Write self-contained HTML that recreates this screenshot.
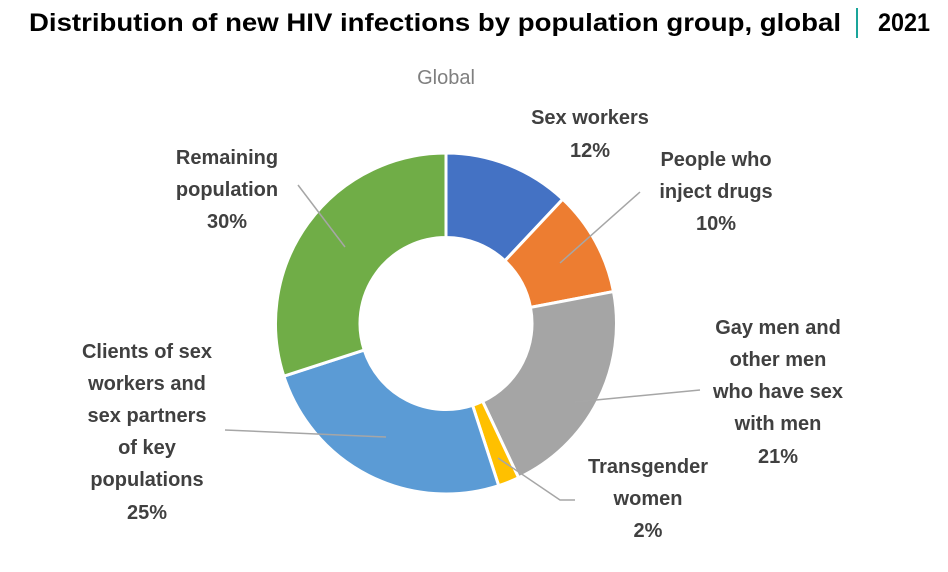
<!DOCTYPE html>
<html><head><meta charset="utf-8"><style>
body{margin:0;background:#fff;width:948px;height:567px;overflow:hidden;font-family:"Liberation Sans",Arial,sans-serif}
</style></head><body>
<svg width="948" height="567" viewBox="0 0 948 567" xmlns="http://www.w3.org/2000/svg">
<text x="29" y="31" font-family="Liberation Sans,Arial,sans-serif" font-weight="bold" font-size="25" fill="#000" textLength="812" lengthAdjust="spacingAndGlyphs">Distribution of new HIV infections by population group, global</text>
<rect x="856" y="8" width="2" height="30" fill="#1aa59a"/>
<text x="878" y="31" font-family="Liberation Sans,Arial,sans-serif" font-weight="bold" font-size="25" fill="#000" textLength="52" lengthAdjust="spacingAndGlyphs">2021</text>
<text x="446" y="84" text-anchor="middle" font-family="Liberation Sans,Arial,sans-serif" font-size="20" fill="#7f7f7f">Global</text>
<g id="ring"></g>
<g stroke="#a6a6a6" stroke-width="1.5" fill="none">
<polyline points="560,263 640,192"/>
<polyline points="575,402 700,390"/>
<polyline points="498,458 560,500 575,500"/>
<polyline points="386,437 225,430"/>
<polyline points="345,247 298,185"/>
</g>
<g font-family="Liberation Sans,Arial,sans-serif" font-weight="bold" font-size="20" fill="#404040" text-anchor="middle">
<text x="590" y="124">Sex workers</text><text x="590" y="157">12%</text>
<text x="716" y="166">People who</text><text x="716" y="198">inject drugs</text><text x="716" y="230">10%</text>
<text x="778" y="334">Gay men and</text><text x="778" y="366">other men</text><text x="778" y="398">who have sex</text><text x="778" y="430">with men</text><text x="778" y="463">21%</text>
<text x="648" y="473">Transgender</text><text x="648" y="505">women</text><text x="648" y="537">2%</text>
<text x="147" y="358">Clients of sex</text><text x="147" y="390">workers and</text><text x="147" y="422">sex partners</text><text x="147" y="454">of key</text><text x="147" y="486">populations</text><text x="147" y="519">25%</text>
<text x="227" y="164">Remaining</text><text x="227" y="196">population</text><text x="227" y="228">30%</text>
</g>
</svg>
<script>
(function(){
var cx=446,cy=323.5,R=170.5,r=86;
var d=[[12,"#4472C4"],[10,"#ED7D31"],[21,"#A5A5A5"],[2,"#FFC000"],[25,"#5B9BD5"],[30,"#70AD47"]];
var g=document.getElementById("ring"),a=0,s="";
function pt(rad,ang){var t=(ang/100)*2*Math.PI-Math.PI/2;return [cx+rad*Math.cos(t),cy+rad*Math.sin(t)];}
d.forEach(function(e){var b=a+e[0],lg=e[0]>50?1:0;
var p1=pt(R,a),p2=pt(R,b),p3=pt(r,b),p4=pt(r,a);
s+='<path d="M'+p1+' A'+R+','+R+' 0 '+lg+' 1 '+p2+' L'+p3+' A'+r+','+r+' 0 '+lg+' 0 '+p4+' Z" fill="'+e[1]+'" stroke="#fff" stroke-width="3"/>';a=b;});
g.innerHTML=s;
var L=document.querySelector("svg g[stroke]");g.parentNode.appendChild(L);
var T=document.querySelectorAll("svg g[font-size]")[0];g.parentNode.appendChild(T);
})();
</script>
</body></html>
